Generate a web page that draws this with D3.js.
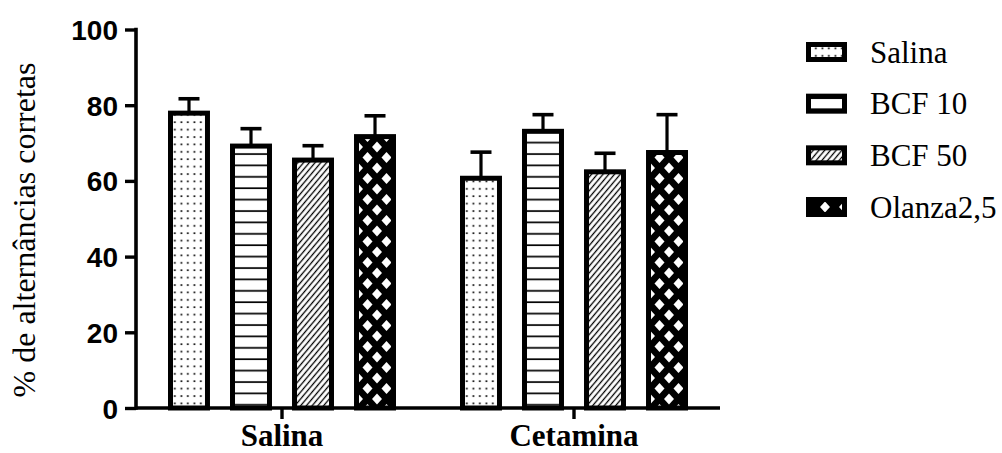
<!DOCTYPE html>
<html>
<head>
<meta charset="utf-8">
<script src="https://cdn.jsdelivr.net/npm/d3@7"></script>
<style>
  html, body { margin: 0; padding: 0; background: #fff; }
  svg { display: block; }
</style>
</head>
<body>
<svg id="chart" width="1002" height="453"></svg>
<script>
// Treatment groups along the x axis
const groups = ["Salina", "Cetamina"];
// Series drawn inside each group
const series = ["Salina", "BCF 10", "BCF 50", "Olanza2,5"];
// Mean % correct alternations per group, one value per series
const meanSalina = [77.9, 69.2, 65.5, 71.7];
const meanCetamina = [60.7, 73.1, 62.4, 67.5];
// Standard error (upper bar only)
const semSalina = [3.8, 4.6, 3.8, 5.5];
const semCetamina = [6.9, 4.4, 4.9, 10.0];
// Y-axis ticks
const yTicks = [0, 20, 40, 60, 80, 100];
const yTitle = "% de alternâncias corretas";

const means = { "Salina": meanSalina, "Cetamina": meanCetamina };
const sems = { "Salina": semSalina, "Cetamina": semCetamina };

const SERIF = "'Liberation Serif'";
const SANS = "'Liberation Sans'";

const svg = d3.select("#chart");

// ---- fill patterns for the four series ----
const defs = svg.append("defs");

const pDots = defs.append("pattern").attr("id", "pat-dots")
  .attr("patternUnits", "userSpaceOnUse").attr("width", 6.5).attr("height", 7.4);
pDots.append("rect").attr("width", 6.5).attr("height", 7.4).attr("fill", "#fff");
pDots.append("rect").attr("x", 2.5).attr("y", 3).attr("width", 1.7).attr("height", 1.7).attr("fill", "#000");

const pHoriz = defs.append("pattern").attr("id", "pat-horiz")
  .attr("patternUnits", "userSpaceOnUse").attr("width", 10).attr("height", 11.4);
pHoriz.append("rect").attr("width", 10).attr("height", 11.4).attr("fill", "#fff");
pHoriz.append("rect").attr("x", 0).attr("y", 5).attr("width", 10).attr("height", 1.7).attr("fill", "#000");

const pDiag = defs.append("pattern").attr("id", "pat-diag")
  .attr("patternUnits", "userSpaceOnUse").attr("width", 4.4).attr("height", 10)
  .attr("patternTransform", "rotate(40)");
pDiag.append("rect").attr("width", 4.4).attr("height", 10).attr("fill", "#fff");
pDiag.append("rect").attr("x", 1.6).attr("y", 0).attr("width", 1.3).attr("height", 10).attr("fill", "#000");

const dw = 19, dh = 21, rx = 5, ry = 5.4;
const pDiam = defs.append("pattern").attr("id", "pat-diamond")
  .attr("patternUnits", "userSpaceOnUse").attr("width", dw).attr("height", dh);
pDiam.append("rect").attr("width", dw).attr("height", dh).attr("fill", "#000");
[[dw / 2, dh / 2], [0, 0], [dw, 0], [0, dh], [dw, dh]].forEach(([cx, cy]) => {
  pDiam.append("path")
    .attr("d", `M${cx - rx},${cy}L${cx},${cy - ry}L${cx + rx},${cy}L${cx},${cy + ry}Z`)
    .attr("fill", "#fff");
});

const fills = ["url(#pat-dots)", "url(#pat-horiz)", "url(#pat-diag)", "url(#pat-diamond)"];

// ---- scales ----
const x0 = d3.scaleBand().domain(groups).range([136, 720]).padding(0);
const x1 = d3.scaleBand().domain(series).range([-114, 114]).paddingInner(0.323).paddingOuter(0);
const y = d3.scaleLinear().domain([0, 100]).range([408, 29.5]);

const barStroke = 5;

// ---- bars and error bars ----
const gGroups = svg.append("g").selectAll("g").data(groups).join("g")
  .attr("transform", d => `translate(${x0(d) + x0.bandwidth() / 2},0)`);

gGroups.each(function (g) {
  const rows = series.map((s, i) => ({ s, i, v: means[g][i], e: sems[g][i] }));
  const sel = d3.select(this);

  // error bars (upper only), drawn first so the bar outline sits on top
  const eb = sel.selectAll("g.err").data(rows).join("g").attr("class", "err");
  eb.append("line")
    .attr("x1", d => x1(d.s) + x1.bandwidth() / 2)
    .attr("x2", d => x1(d.s) + x1.bandwidth() / 2)
    .attr("y1", d => y(d.v))
    .attr("y2", d => y(d.v + d.e))
    .attr("stroke", "#000").attr("stroke-width", 3.2);
  eb.append("line")
    .attr("x1", d => x1(d.s) + x1.bandwidth() / 2 - 10.5)
    .attr("x2", d => x1(d.s) + x1.bandwidth() / 2 + 10.5)
    .attr("y1", d => y(d.v + d.e))
    .attr("y2", d => y(d.v + d.e))
    .attr("stroke", "#000").attr("stroke-width", 3.6);

  sel.selectAll("rect.bar").data(rows).join("rect").attr("class", "bar")
    .attr("x", d => x1(d.s) + barStroke / 2)
    .attr("width", x1.bandwidth() - barStroke)
    .attr("y", d => y(d.v))
    .attr("height", d => y(0) - y(d.v))
    .attr("fill", d => fills[d.i])
    .attr("stroke", "#000")
    .attr("stroke-width", barStroke);
});

// ---- axes ----
const yAxis = d3.axisLeft(y).tickValues(yTicks).tickSize(11).tickSizeOuter(0).tickPadding(7);
const gy = svg.append("g").attr("transform", "translate(136,0)").call(yAxis)
  .attr("font-family", SANS).attr("font-size", 28).attr("font-weight", "bold");
gy.select(".domain").remove();
gy.selectAll(".tick line").attr("stroke", "#000").attr("stroke-width", 3.4);
gy.selectAll(".tick text").attr("fill", "#000").attr("dy", "0.36em");
gy.append("line")
  .attr("x1", 0).attr("x2", 0)
  .attr("y1", y(100) - 1.7).attr("y2", y(0) + 1.7)
  .attr("stroke", "#000").attr("stroke-width", 3.6);

const xAxis = d3.axisBottom(x0).tickSize(11).tickSizeOuter(0).tickPadding(10);
const gx = svg.append("g").attr("transform", `translate(0,${y(0)})`).call(xAxis)
  .attr("font-family", SERIF).attr("font-size", 31).attr("font-weight", "bold");
gx.select(".domain").remove();
gx.append("line")
  .attr("x1", 136).attr("x2", 720).attr("y1", 0).attr("y2", 0)
  .attr("stroke", "#000").attr("stroke-width", 3.6);
gx.selectAll(".tick line").attr("stroke", "#000").attr("stroke-width", 3.4);
gx.selectAll(".tick text").attr("fill", "#000").attr("y", 38).attr("dy", 0);

// ---- y-axis title ----
svg.append("text")
  .attr("transform", "translate(35,230) rotate(-90)")
  .attr("text-anchor", "middle")
  .attr("font-family", SERIF)
  .attr("font-size", 32)
  .attr("fill", "#000")
  .text(yTitle);

// ---- legend ----
const legend = svg.append("g").attr("transform", "translate(806,0)")
  .attr("font-family", SERIF).attr("font-size", 31);
const legendY = d3.scalePoint().domain(series).range([52, 207]);
const items = legend.selectAll("g").data(series).join("g")
  .attr("transform", d => `translate(0,${legendY(d)})`);
items.append("rect")
  .attr("x", barStroke / 2).attr("y", -10 + barStroke / 2)
  .attr("width", 41 - barStroke).attr("height", 20 - barStroke)
  .attr("fill", (d, i) => fills[i])
  .attr("stroke", "#000").attr("stroke-width", barStroke);
items.append("text")
  .attr("x", 64).attr("dy", "0.34em")
  .attr("fill", "#000")
  .text(d => d);
</script>
</body>
</html>
